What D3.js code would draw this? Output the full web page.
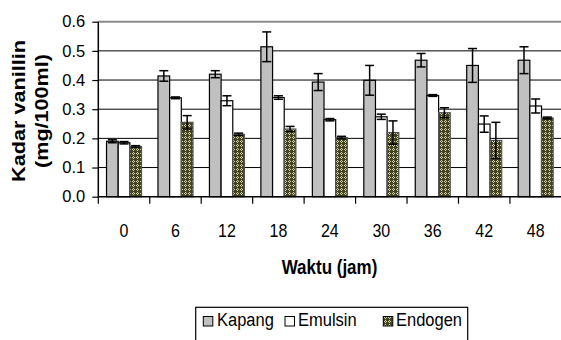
<!DOCTYPE html>
<html><head><meta charset="utf-8">
<script src="https://cdn.jsdelivr.net/npm/d3@7"></script>
<style>body{margin:0;background:#fff}svg{display:block;font-family:"Liberation Sans",Arial,sans-serif}text{font-family:"Liberation Sans",Arial,sans-serif}</style>
</head><body><svg id="c" width="561" height="340"></svg>
<script>
const categories = ["0","6","12","18","24","30","36","42","48"];
const seriesNames = ["Kapang","Emulsin","Endogen"];
const kapang  = [0.190,0.414,0.420,0.514,0.393,0.399,0.468,0.450,0.468];
const kapangErr = [0.005,0.018,0.012,0.051,0.029,0.051,0.023,0.058,0.046];
const emulsin = [0.185,0.339,0.329,0.340,0.264,0.274,0.347,0.249,0.311];
const emulsinErr = [0.004,0.003,0.017,0.006,0.004,0.009,0.003,0.028,0.024];
const endogen = [0.172,0.255,0.214,0.232,0.203,0.220,0.288,0.193,0.270];
const endogenErr = [0.003,0.023,0.004,0.009,0.004,0.040,0.017,0.062,0.003];
const yTicks = [0,0.1,0.2,0.3,0.4,0.5,0.6];

(function(){
const FF = "'Liberation Sans',Arial,sans-serif";
const svg = d3.select("#c");
const pL = 98.3, pR = 561.4, pT = 21.7, pB = 196.7;
const x = d3.scaleBand().domain(categories).range([pL, pR]).padding(0);
const y = d3.scaleLinear().domain([0,0.6]).range([pB, pT]);
const groupW = 35;
const xs = d3.scaleBand().domain(seriesNames).range([(x.bandwidth()-groupW)/2,(x.bandwidth()+groupW)/2]).padding(0);

const defs = svg.append("defs");
const pat = defs.append("pattern").attr("id","endo").attr("patternUnits","userSpaceOnUse").attr("width",4).attr("height",4);
pat.append("rect").attr("width",4).attr("height",4).attr("fill","#434320");
[[1,0],[0,1],[2,1],[1,2]].forEach(([a,b])=>pat.append("rect").attr("x",a).attr("y",b).attr("width",1).attr("height",1).attr("fill","#d4d4b0"));

svg.append("g").selectAll("line").data(yTicks.filter(t=>t>0)).join("line")
  .attr("x1",pL).attr("x2",pR).attr("y1",d=>y(d)).attr("y2",d=>y(d))
  .attr("stroke",d=>d===0.6?"#8c8c8c":"#000").attr("stroke-width",d=>d===0.6?2:1);

const fills = {Kapang:"#c0c0c0",Emulsin:"#ffffff",Endogen:"url(#endo)"};
const data = [];
categories.forEach((c,i)=>{
  data.push({c,s:"Kapang",v:kapang[i],e:kapangErr[i]});
  data.push({c,s:"Emulsin",v:emulsin[i],e:emulsinErr[i]});
  data.push({c,s:"Endogen",v:endogen[i],e:endogenErr[i]});
});
const bw = xs.bandwidth();
svg.append("g").selectAll("rect").data(data).join("rect")
  .attr("x",d=>x(d.c)+xs(d.s)).attr("width",bw)
  .attr("y",d=>y(d.v)).attr("height",d=>y(0)-y(d.v))
  .attr("fill",d=>fills[d.s]).attr("stroke",d=>d.s==="Endogen"?"#555":"#000").attr("stroke-width",1.2);

const eg = svg.append("g").attr("stroke","#000").attr("stroke-width",1.5);
data.forEach(d=>{
  const cx = x(d.c)+xs(d.s)+bw/2;
  eg.append("line").attr("x1",cx).attr("x2",cx).attr("y1",y(d.v-d.e)).attr("y2",y(d.v+d.e));
  [d.v-d.e,d.v+d.e].forEach(v=>eg.append("line").attr("x1",cx-4.5).attr("x2",cx+4.5).attr("y1",y(v)).attr("y2",y(v)));
});

const ya = svg.append("g").attr("transform",`translate(${pL},0)`)
  .call(d3.axisLeft(y).tickValues(yTicks).tickFormat(d3.format(".1f")).tickSize(6).tickPadding(7));
ya.attr("font-family",FF);
ya.select(".domain").attr("stroke","#000").attr("stroke-width",1.5).attr("d",`M0,${pT}V${pB}`);
ya.selectAll(".tick line").attr("stroke","#000").attr("stroke-width",1.2);
ya.selectAll(".tick text").attr("font-size",16.5).attr("fill","#000").attr("font-family",FF);

svg.append("g").selectAll("line").data(categories).join("line")
  .attr("x1",d=>x(d)).attr("x2",d=>x(d)).attr("y1",pB).attr("y2",pB+7).attr("stroke","#000").attr("stroke-width",1.2);
svg.append("line").attr("x1",pL).attr("x2",pR).attr("y1",pB).attr("y2",pB).attr("stroke","#000").attr("stroke-width",1.5);
svg.append("g").selectAll("text").data(categories).join("text")
  .attr("transform",d=>`translate(${x(d)+x.bandwidth()/2},236.5) scale(1,1.15)`)
  .attr("text-anchor","middle").attr("font-size",16).attr("font-family",FF).text(d=>d);

svg.append("text").attr("transform","translate(329.5,273.5) scale(1,1.15)").attr("text-anchor","middle")
  .attr("font-size",17).attr("font-weight","bold").attr("font-family",FF).text("Waktu (jam)");
const yt = svg.append("text").attr("transform","translate(0,111) rotate(-90)").attr("text-anchor","middle")
  .attr("font-size",18).attr("font-weight","bold").attr("font-family",FF);
yt.append("tspan").attr("x",0).attr("y",25).attr("textLength",142).attr("lengthAdjust","spacingAndGlyphs").text("Kadar vanillin");
yt.append("tspan").attr("x",0).attr("y",48).attr("textLength",114).attr("lengthAdjust","spacingAndGlyphs").text("(mg/100ml)");

const lg = svg.append("g");
lg.append("rect").attr("x",195.7).attr("y",307.3).attr("width",272).attr("height",60).attr("fill","none").attr("stroke","#000").attr("stroke-width",1.2);
const legX = [203.3,285,383.3], legTX=[217,298,396];
seriesNames.forEach((s,i)=>{
  lg.append("rect").attr("x",legX[i]).attr("y",316.5).attr("width",9.5).attr("height",9.5).attr("fill",fills[s]).attr("stroke","#000").attr("stroke-width",1);
  lg.append("text").attr("transform",`translate(${legTX[i]},326) scale(1,1.07)`).attr("font-size",16.5).attr("font-family",FF).text(s);
});
})();
</script></body></html>
